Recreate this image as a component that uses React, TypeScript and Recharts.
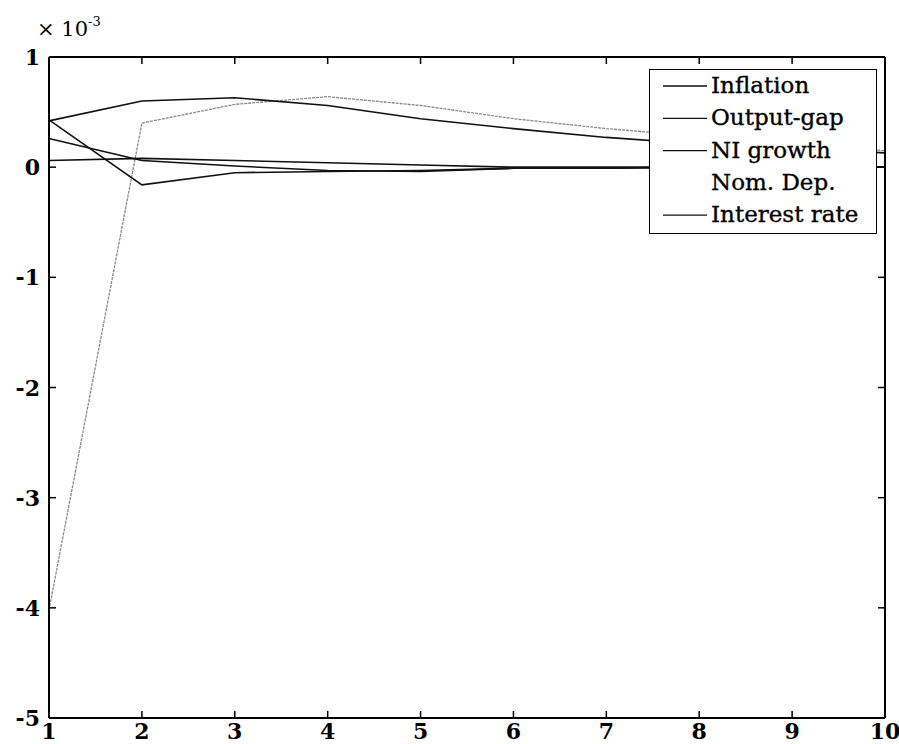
import React from "react";
import { LineChart, Line, XAxis, YAxis, Legend, Label } from "recharts";

const periods = [1, 2, 3, 4, 5, 6, 7, 8, 9, 10];
const inflation = [0.26, 0.06, 0.01, -0.03, -0.04, -0.01, -0.01, 0, 0, 0];
const outputGap = [0.43, -0.16, -0.05, -0.04, -0.03, -0.01, -0.01, 0, 0, 0];
const niGrowth = [0.42, 0.6, 0.63, 0.56, 0.44, 0.35, 0.27, 0.21, 0.17, 0.13];
const nomDep = [0.06, 0.08, 0.06, 0.04, 0.02, 0, 0, 0, 0, 0];
const interestRate = [-4.02, 0.4, 0.57, 0.64, 0.56, 0.44, 0.35, 0.28, 0.21, 0.15];
const yTicks = [-5, -4, -3, -2, -1, 0, 1];

const legendItems = [
  { label: "Inflation", line: true },
  { label: "Output-gap", line: true },
  { label: "NI growth", line: true },
  { label: "Nom. Dep.", line: false },
  { label: "Interest rate", line: true },
];

const data = periods.map((t, i) => ({
  t,
  inflation: inflation[i],
  outputGap: outputGap[i],
  niGrowth: niGrowth[i],
  nomDep: nomDep[i],
  interestRate: interestRate[i],
}));

const FONT = "'DejaVu Serif', serif";

const BottomTick = (props: any) => {
  const { x, y, payload } = props;
  return (
    <g>
      <line x1={x} x2={x} y1={y} y2={y - 7} stroke="#000" strokeWidth={1.5} />
      <text x={x} y={y + 21} textAnchor="middle" fontFamily={FONT} fontWeight="bold" fontSize={22} fill="#000">
        {payload.value}
      </text>
    </g>
  );
};

const TopTick = (props: any) => {
  const { x, y } = props;
  return <line x1={x} x2={x} y1={y} y2={y + 7} stroke="#000" strokeWidth={1.5} />;
};

const LeftTick = (props: any) => {
  const { x, y, payload } = props;
  return (
    <g>
      <line x1={x} x2={x + 7} y1={y} y2={y} stroke="#000" strokeWidth={1.5} />
      <text x={x - 9} y={y + 8} textAnchor="end" fontFamily={FONT} fontWeight="bold" fontSize={22} fill="#000">
        {payload.value}
      </text>
    </g>
  );
};

const RightTick = (props: any) => {
  const { x, y } = props;
  return <line x1={x} x2={x - 7} y1={y} y2={y} stroke="#000" strokeWidth={1.5} />;
};

const renderLegend = () => (
  <div style={{ width: 228, height: 165, border: "1.5px solid #000", boxSizing: "border-box", background: "#fff" }}>
    <svg width={225} height={162} style={{ display: "block" }}>
      {legendItems.map((it, i) => {
        const cy = 15 + i * 32.3;
        return (
          <g key={it.label}>
            {it.line && <line x1={13} x2={57} y1={cy + 1} y2={cy + 1} stroke="#111" strokeWidth={1.3} />}
            <text x={61} y={cy + 8} fontFamily={FONT} fontSize={23} fill="#000" stroke="#000" strokeWidth={0.35}>
              {it.label}
            </text>
          </g>
        );
      })}
    </svg>
  </div>
);

const ExpLabel = () => (
  <text x={37} y={36} fontFamily={FONT} fontSize={21} fill="#000">
    × 10
    <tspan dy={-10} fontSize={13}>-3</tspan>
  </text>
);

export default function App() {
  return (
    <div style={{ position: "fixed", left: 0, top: 0, width: 899, height: 744, overflow: "hidden", background: "#fff" }}>
      <LineChart width={899} height={744} data={data} margin={{ top: 56, right: 13, bottom: 0, left: 8 }}>
        <XAxis
          dataKey="t"
          type="number"
          domain={[1, 10]}
          ticks={periods}
          interval={0}
          height={26}
          tickSize={0}
          tickMargin={0}
          tick={<BottomTick />}
          axisLine={{ stroke: "#000", strokeWidth: 2 }}
          tickLine={false}
        />
        <XAxis
          xAxisId="top"
          dataKey="t"
          type="number"
          orientation="top"
          domain={[1, 10]}
          ticks={periods}
          interval={0}
          height={1}
          tickSize={0}
          tickMargin={0}
          tick={<TopTick />}
          axisLine={{ stroke: "#000", strokeWidth: 2 }}
          tickLine={false}
        />
        <YAxis
          type="number"
          domain={[-5, 1]}
          ticks={yTicks}
          interval={0}
          width={41}
          tickSize={0}
          tickMargin={0}
          tick={<LeftTick />}
          axisLine={{ stroke: "#000", strokeWidth: 2 }}
          tickLine={false}
        >
          <Label content={<ExpLabel />} />
        </YAxis>
        <YAxis
          yAxisId="right"
          orientation="right"
          type="number"
          domain={[-5, 1]}
          ticks={yTicks}
          interval={0}
          width={1}
          tickSize={0}
          tickMargin={0}
          tick={<RightTick />}
          axisLine={{ stroke: "#000", strokeWidth: 2 }}
          tickLine={false}
        />
        <Legend
          content={renderLegend}
          layout="horizontal"
          verticalAlign="middle"
          align="center"
          wrapperStyle={{ position: "absolute", left: 649, top: 69, width: 228, height: 165 }}
        />
        <Line xAxisId="top" yAxisId="right" dataKey="nomDep" stroke="none" dot={false} legendType="none" isAnimationActive={false} />
        <Line dataKey="interestRate" name="Interest rate" stroke="#8a8a8a" strokeWidth={1.3} strokeDasharray="3 1" dot={false} isAnimationActive={false} />
        <Line dataKey="nomDep" name="Nom. Dep." stroke="#111" strokeWidth={1.6} dot={false} isAnimationActive={false} />
        <Line dataKey="inflation" name="Inflation" stroke="#111" strokeWidth={1.6} dot={false} isAnimationActive={false} />
        <Line dataKey="outputGap" name="Output-gap" stroke="#111" strokeWidth={1.6} dot={false} isAnimationActive={false} />
        <Line dataKey="niGrowth" name="NI growth" stroke="#111" strokeWidth={1.6} dot={false} isAnimationActive={false} />
      </LineChart>
    </div>
  );
}
